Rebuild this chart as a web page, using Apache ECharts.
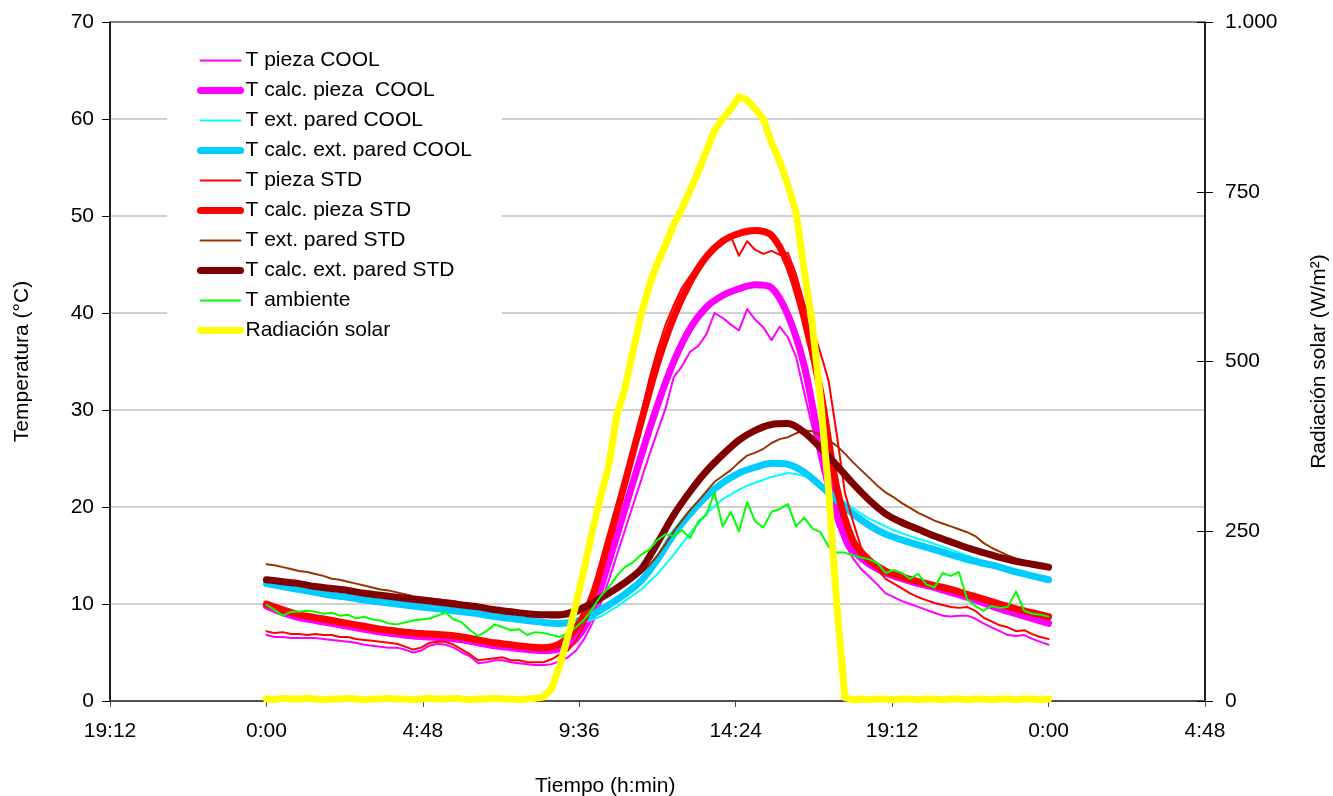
<!DOCTYPE html>
<html>
<head>
<meta charset="utf-8">
<title>Temperaturas y radiación solar</title>
<script src="https://cdn.jsdelivr.net/npm/echarts/dist/echarts.min.js"></script>
<style>
  html, body { margin: 0; padding: 0; background: #fff; }
  #chart { width: 1333px; height: 796px; }
</style>
</head>
<body>
<div id="chart"></div>
<script>
const FONT = '"Liberation Sans", Arial, sans-serif';

// time grid in hours from 0:00 (measured every 15 min, model every 30 min)
const hoursQuarter = Array.from({ length: 97 }, (_, i) => i * 0.25);
const hoursHalf = Array.from({ length: 49 }, (_, i) => i * 0.5);

// measured, every 15 min
const tPiezaCool = [
  6.8, 6.6, 6.6, 6.5,  6.5, 6.5, 6.5, 6.4,  6.3, 6.2, 6.1, 6.0,  5.8, 5.7, 5.6, 5.5,
  5.5, 5.3, 5.0, 5.2,  5.7, 5.9, 5.8, 5.5,  5.0, 4.6, 3.9, 4.0,  4.2, 4.2, 4.0, 3.9,
  3.8, 3.7, 3.7, 3.8,  4.1, 4.5, 5.2, 6.4,  8.0, 10.0, 12.4, 15.0,  17.6, 20.2, 22.8, 25.4,
  27.8, 30.2, 33.4, 34.5,  36.0, 36.6, 37.8, 40.0,  39.5, 38.8, 38.2, 40.4,  39.3, 38.5, 37.2, 38.6,
  37.5, 35.5, 31.8, 28.3,  24.5, 21.0, 18.3, 16.2,  14.7, 13.6, 12.8, 12.0,  11.1, 10.7, 10.3, 10.0,
  9.7, 9.4, 9.1, 8.8,  8.7, 8.8, 8.8, 8.5,  8.0, 7.6, 7.2, 6.8,  6.7, 6.8, 6.4, 6.1,
  5.8
];
const tExtParedCool = [
  11.9, 11.8, 11.6, 11.5,  11.3, 11.2, 11.0, 10.9,  10.7, 10.6, 10.5, 10.3,  10.2, 10.1, 10.0, 9.9,
  9.8, 9.7, 9.6, 9.5,  9.4, 9.3, 9.2, 9.1,  9.0, 8.9, 8.8, 8.6,  8.5, 8.4, 8.3, 8.2,
  8.1, 8.0, 7.9, 7.9,  7.8, 7.8, 7.9, 8.1,  8.4, 8.7, 9.2, 9.7,  10.3, 10.9, 11.5, 12.3,
  13.1, 14.1, 15.1, 16.2,  17.3, 18.3, 19.3, 20.1,  20.8, 21.3, 21.8, 22.2,  22.5, 22.8, 23.1, 23.3,
  23.5, 23.4, 23.2, 22.8,  22.3, 21.7, 21.1, 20.5,  19.9, 19.3, 18.8, 18.4,  18.0, 17.6, 17.3, 17.0,
  16.7, 16.5, 16.2, 15.9,  15.6, 15.3, 15.0, 14.7,  14.4, 14.1, 13.9, 13.6,  13.4, 13.1, 12.9, 12.7,
  12.5
];
const tPiezaStd = [
  7.2, 7.0, 7.1, 6.9,  6.9, 6.8, 6.9, 6.8,  6.8, 6.6, 6.6, 6.4,  6.3, 6.2, 6.1, 6.0,
  5.9, 5.6, 5.3, 5.5,  6.0, 6.1, 6.1, 5.8,  5.3, 4.8, 4.2, 4.3,  4.4, 4.5, 4.2, 4.2,
  4.0, 4.0, 4.0, 4.3,  4.8, 5.2, 6.2, 7.8,  9.8, 12.6, 15.8, 19.2,  22.6, 26.0, 29.6, 33.2,
  36.2, 38.8, 40.8, 42.6,  43.8, 44.9, 45.8, 46.6,  47.3, 47.9, 45.9, 47.4,  46.5, 46.1, 46.4, 46.0,
  46.2, 44.0, 41.0, 38.5,  35.9, 33.0, 27.5, 21.5,  18.5, 15.8, 14.3, 13.6,  12.6, 12.1, 11.6, 11.1,
  10.7, 10.4, 10.1, 9.9,  9.7, 9.6, 9.7, 9.3,  8.6, 8.2, 7.8, 7.6,  7.2, 7.3, 6.9, 6.6,
  6.4
];
const tExtParedStd = [
  14.1, 14.0, 13.8, 13.6,  13.4, 13.3, 13.1, 12.9,  12.6, 12.5, 12.3, 12.1,  11.9, 11.7, 11.5, 11.4,
  11.2, 11.0, 10.8, 10.7,  10.6, 10.5, 10.4, 10.3,  10.1, 9.9, 9.8, 9.7,  9.5, 9.4, 9.2, 9.0,
  8.9, 8.8, 8.7, 8.6,  8.6, 8.7, 8.9, 9.3,  9.8, 10.3, 10.9, 11.5,  12.0, 12.6, 13.2, 14.0,
  15.0, 16.2, 17.5, 18.6,  19.7, 20.6, 21.6, 22.6,  23.2, 23.8, 24.6, 25.3,  25.6, 26.0, 26.6, 27.0,
  27.2, 27.6, 27.9, 27.8,  27.4, 26.9, 26.3, 25.5,  24.6, 23.8, 23.0, 22.2,  21.5, 21.0, 20.4, 19.9,
  19.4, 19.0, 18.6, 18.3,  18.0, 17.7, 17.4, 17.0,  16.3, 15.8, 15.4, 15.0,  14.7, 14.5, 14.3, 14.1,
  13.9
];
const tAmbiente = [
  9.9, 9.4, 8.8, 9.2,  9.2, 9.3, 9.2, 9.0,  9.1, 8.8, 8.9, 8.5,  8.7, 8.4, 8.3, 8.0,
  7.9, 8.1, 8.3, 8.4,  8.5, 8.8, 9.1, 8.4,  8.1, 7.3, 6.7, 7.2,  7.9, 7.6, 7.3, 7.4,
  6.8, 7.1, 7.0, 6.8,  6.6, 7.0, 7.6, 8.4,  9.5, 10.8, 11.7, 12.9,  13.8, 14.3, 15.1, 15.6,
  16.6, 17.2, 17.0, 17.6,  16.8, 18.5, 19.2, 21.5,  18.0, 19.5, 17.5, 20.5,  18.5, 17.9, 19.5, 19.8,
  20.3, 18.0, 18.9, 17.8,  17.4, 15.9, 15.3, 15.3,  15.0, 14.8, 14.6, 14.2,  13.2, 13.5, 13.2, 12.6,
  13.1, 12.0, 11.7, 13.2,  12.9, 13.3, 10.5, 9.8,  9.3, 9.8, 9.6, 9.7,  11.3, 9.3, 9.0, 8.9,
  8.7
];
const radiacion = [
  3, 2, 4, 3,  3, 4, 3, 2,  3, 3, 4, 3,  2, 3, 3, 4,
  3, 3, 2, 3,  4, 3, 3, 4,  3, 2, 3, 3,  4, 3, 3, 2,
  3, 4, 6, 18,  52, 95, 143, 195,  250, 300, 345, 420,  460, 515, 570, 612,
  645, 672, 702, 725,  752, 780, 810, 840,  858, 872, 890, 885,  872, 857, 822, 795,
  760, 720, 635, 555,  445, 310, 143, 5,  2, 3, 2, 3,  3, 2, 3, 3,
  2, 3, 3, 2,  3, 3, 2, 3,  3, 2, 3, 3,  2, 3, 3, 2,
  3
];

// model, every 30 min
const tCalcPiezaCool = [
  9.8, 9.1, 8.6, 8.3,  8.0, 7.7, 7.4, 7.1,  6.9, 6.7, 6.6, 6.5,  6.3, 6.0, 5.7, 5.5,
  5.3, 5.2, 5.4, 6.4,  9.2, 14.3, 19.8, 25.3,  30.5, 35.0, 38.4, 40.6,  41.8, 42.5, 42.9, 42.6,
  39.8, 34.6, 26.2, 19.5,  15.6, 14.1, 13.2, 12.6,  12.1, 11.7, 11.2, 10.7,  10.1, 9.5, 9.0, 8.5,
  8.0
];
const tCalcExtCool = [
  12.1, 11.8, 11.5, 11.2,  10.9, 10.7, 10.4, 10.2,  10.0, 9.8, 9.6, 9.4,  9.2, 9.0, 8.7, 8.5,
  8.3, 8.1, 8.0, 8.2,  8.9, 9.9, 11.0, 12.4,  14.6, 17.2, 19.3, 21.1,  22.5, 23.5, 24.1, 24.5,
  24.4, 23.6, 22.2, 20.7,  19.3, 18.1, 17.2, 16.6,  16.1, 15.6, 15.1, 14.6,  14.2, 13.8, 13.3, 12.9,
  12.5
];
const tCalcPiezaStd = [
  10.0, 9.4, 8.9, 8.6,  8.3, 8.0, 7.7, 7.4,  7.2, 7.0, 6.9, 6.8,  6.6, 6.3, 6.0, 5.8,
  5.6, 5.5, 5.9, 7.5,  10.8, 16.5, 22.5, 28.8,  34.8, 39.6, 43.2, 45.8,  47.4, 48.2, 48.5, 48.0,
  45.0, 39.5, 32.0, 22.0,  16.5, 14.5, 13.4, 12.8,  12.3, 11.9, 11.5, 11.0,  10.5, 10.0, 9.5, 9.1,
  8.7
];
const tCalcExtStd = [
  12.5, 12.3, 12.1, 11.8,  11.6, 11.4, 11.1, 10.9,  10.7, 10.5, 10.3, 10.1,  9.9, 9.7, 9.4, 9.2,
  9.0, 8.9, 8.9, 9.3,  10.1, 11.1, 12.2, 13.6,  16.3, 19.2, 21.6, 23.7,  25.4, 26.9, 27.9, 28.5,
  28.6, 27.7, 26.1, 24.3,  22.4, 20.7, 19.3, 18.4,  17.7, 17.0, 16.4, 15.8,  15.3, 14.8, 14.4, 14.1,
  13.8
];

const seriesDefs = [
  { name: 'T pieza COOL', color: '#FF00FF', width: 2, hours: hoursQuarter, values: tPiezaCool },
  { name: 'T calc. pieza  COOL', color: '#FF00FF', width: 7, hours: hoursHalf, values: tCalcPiezaCool, smooth: true },
  { name: 'T ext. pared COOL', color: '#00FFFF', width: 2, hours: hoursQuarter, values: tExtParedCool },
  { name: 'T calc. ext. pared COOL', color: '#00CCFF', width: 7, hours: hoursHalf, values: tCalcExtCool, smooth: true },
  { name: 'T pieza STD', color: '#FF0000', width: 2, hours: hoursQuarter, values: tPiezaStd },
  { name: 'T calc. pieza STD', color: '#FF0000', width: 7, hours: hoursHalf, values: tCalcPiezaStd, smooth: true },
  { name: 'T ext. pared STD', color: '#993300', width: 2, hours: hoursQuarter, values: tExtParedStd },
  { name: 'T calc. ext. pared STD', color: '#800000', width: 7, hours: hoursHalf, values: tCalcExtStd, smooth: true },
  { name: 'T ambiente', color: '#00FF00', width: 2, hours: hoursQuarter, values: tAmbiente },
  { name: 'Radiación solar', color: '#FFFF00', width: 7, hours: hoursQuarter, values: radiacion, yAxisIndex: 1 }
];

function hhmm(v) {
  let m = Math.round(v * 60);
  m = ((m % 1440) + 1440) % 1440;
  return Math.floor(m / 60) + ':' + String(m % 60).padStart(2, '0');
}

const chart = echarts.init(document.getElementById('chart'));

chart.setOption({
  animation: false,
  backgroundColor: '#fff',
  textStyle: { fontFamily: FONT },
  grid: {
    left: 110, right: 128, top: 22, bottom: 95,
    outerBoundsMode: 'none',
    show: true, borderColor: '#000', borderWidth: 1
  },
  legend: {
    orient: 'vertical',
    left: 167,
    top: 38,
    padding: [12, 30, 30, 30],
    backgroundColor: '#fff',
    itemWidth: 40,
    itemHeight: 14,
    itemGap: 9,
    itemStyle: { opacity: 0 },
    lineStyle: { width: 'inherit', cap: 'round' },
    textStyle: { fontFamily: FONT, fontSize: 21, color: '#000' },
    data: seriesDefs.map(d => d.name)
  },
  xAxis: {
    type: 'value',
    min: -4.8,
    max: 28.8,
    interval: 4.8,
    axisLine: { show: true, onZero: false, lineStyle: { color: '#4d4d4d', width: 2 } },
    axisTick: { show: true, length: 6, lineStyle: { color: '#4d4d4d' } },
    axisLabel: { margin: 20, formatter: hhmm, fontFamily: FONT, fontSize: 21, color: '#000' },
    splitLine: { show: false }
  },
  yAxis: [
    {
      type: 'value', min: 0, max: 70, interval: 10, position: 'left',
      name: 'Temperatura (°C)', nameLocation: 'middle', nameGap: 77,
      nameTextStyle: { fontFamily: FONT, fontSize: 21, color: '#000' },
      axisLine: { show: true, onZero: false, lineStyle: { color: '#000', width: 1.5 } },
      axisTick: { show: true, length: 8, lineStyle: { color: '#000' } },
      axisLabel: { margin: 16, fontFamily: FONT, fontSize: 21, color: '#000' },
      splitLine: {
        show: true, showMinLine: false, showMaxLine: false,
        lineStyle: { color: '#c0c0c0', width: 1.5 }
      }
    },
    {
      type: 'value', min: 0, max: 1000, interval: 250, position: 'right',
      name: 'Radiación solar (W/m²)', nameLocation: 'middle', nameGap: 104,
      nameTextStyle: { fontFamily: FONT, fontSize: 21, color: '#000' },
      axisLine: { show: true, onZero: false, lineStyle: { color: '#000', width: 1.5 } },
      axisTick: { show: true, length: 8, lineStyle: { color: '#000' } },
      axisLabel: {
        margin: 20, fontFamily: FONT, fontSize: 21, color: '#000',
        formatter: v => (v === 1000 ? '1.000' : String(v))
      },
      splitLine: { show: false }
    },
    {
      // inner half of the right axis ticks
      type: 'value', min: 0, max: 1000, interval: 250, position: 'right',
      axisLine: { show: false, onZero: false },
      axisTick: { show: true, inside: true, length: 8, lineStyle: { color: '#000' } },
      axisLabel: { show: false },
      splitLine: { show: false }
    }
  ],
  graphic: [
    {
      type: 'text', left: 535, top: 776,
      style: { text: 'Tiempo (h:min)', font: '21px "Liberation Sans", Arial, sans-serif', fill: '#000' }
    }
  ],
  series: seriesDefs.map(d => ({
    name: d.name,
    type: 'line',
    yAxisIndex: d.yAxisIndex || 0,
    symbol: 'none',
    smooth: d.smooth ? 0.3 : false,
    color: d.color,
    lineStyle: { color: d.color, width: d.width, cap: 'round', join: 'round' },
    data: d.hours.map((h, i) => [h, d.values[i]])
  }))
});
</script>
</body>
</html>
